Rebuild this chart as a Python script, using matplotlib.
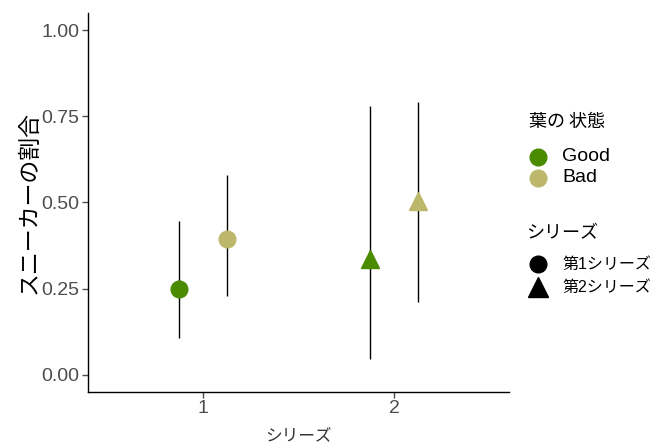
import matplotlib
matplotlib.use("Agg")
import matplotlib.pyplot as plt
from matplotlib.lines import Line2D

FONTS = ['Liberation Sans', 'Noto Sans CJK JP', 'DejaVu Sans']
CJK = ['Noto Sans CJK JP', 'DejaVu Sans']
plt.rcParams['font.family'] = FONTS

# data: proportion of sneakers per series and leaf condition
series = [1, 2]
conditions = ['Good', 'Bad']
colors = {'Good': '#4A8B00', 'Bad': '#BDB76B'}
markers = {1: 'o', 2: '^'}
series_labels = ['第1シリーズ', '第2シリーズ']

mean = {'Good': [0.25, 0.336], 'Bad': [0.393, 0.504]}
lower = {'Good': [0.107, 0.045], 'Bad': [0.229, 0.211]}
upper = {'Good': [0.447, 0.780], 'Bad': [0.579, 0.791]}

dodge = {'Good': -0.125, 'Bad': 0.125}

W, H = 662, 445
fig = plt.figure(figsize=(W / 100, H / 100), dpi=100)
ax = fig.add_axes([0.133, 0.119, 0.636, 0.852])

for c in conditions:
    for i, s in enumerate(series):
        x = s + dodge[c]
        ax.vlines(x, lower[c][i], upper[c][i], color='black', lw=1.0, zorder=1)
        ax.plot(x, mean[c][i], marker=markers[s], color=colors[c],
                markersize=12 if s == 1 else 13, ls='none', zorder=2)

ax.set_xlim(0.4, 2.6)
ax.set_ylim(-0.05, 1.05)
ax.set_xticks([1, 2])
ax.set_yticks([0, 0.25, 0.5, 0.75, 1.0])
ax.set_yticklabels(['0.00', '0.25', '0.50', '0.75', '1.00'])
ax.tick_params(colors='#4D4D4D', labelsize=14, length=4, width=1, pad=2)
for sp in ['top', 'right']:
    ax.spines[sp].set_visible(False)
for sp in ['left', 'bottom']:
    ax.spines[sp].set_color('black')
    ax.spines[sp].set_linewidth(1.0)

ax.set_xlabel('シリーズ', fontsize=12, color='#333333', labelpad=7, family=CJK)
ax.set_ylabel('スニーカーの割合', fontsize=16.5, color='black', labelpad=1,
              family=CJK)


# hand-placed legends, positions in pixels from the top-left corner
def px(x, y):
    return x / W, 1 - y / H


def legend_title(x, y, s):
    fig.text(*px(x, y), s, fontsize=13, va='center', ha='left', family=CJK)


def legend_row(y, marker, color, label, size, fsize):
    fig.add_artist(Line2D([px(538, y)[0]], [px(538, y)[1]], marker=marker,
                          color=color, ls='none', markersize=size,
                          transform=fig.transFigure))
    fig.text(*px(562, y), label, fontsize=fsize, va='center', ha='left')


legend_title(529, 122, '葉の 状態')
for c, y in zip(conditions, [157, 178]):
    legend_row(y, 'o', colors[c], c, 12, 14)

legend_title(526, 233, 'シリーズ')
for s, lab, y in zip(series, series_labels, [264, 287]):
    legend_row(y, markers[s], 'black', lab, 12 if s == 1 else 14, 11.5)

fig.savefig('out.png', dpi=100)
